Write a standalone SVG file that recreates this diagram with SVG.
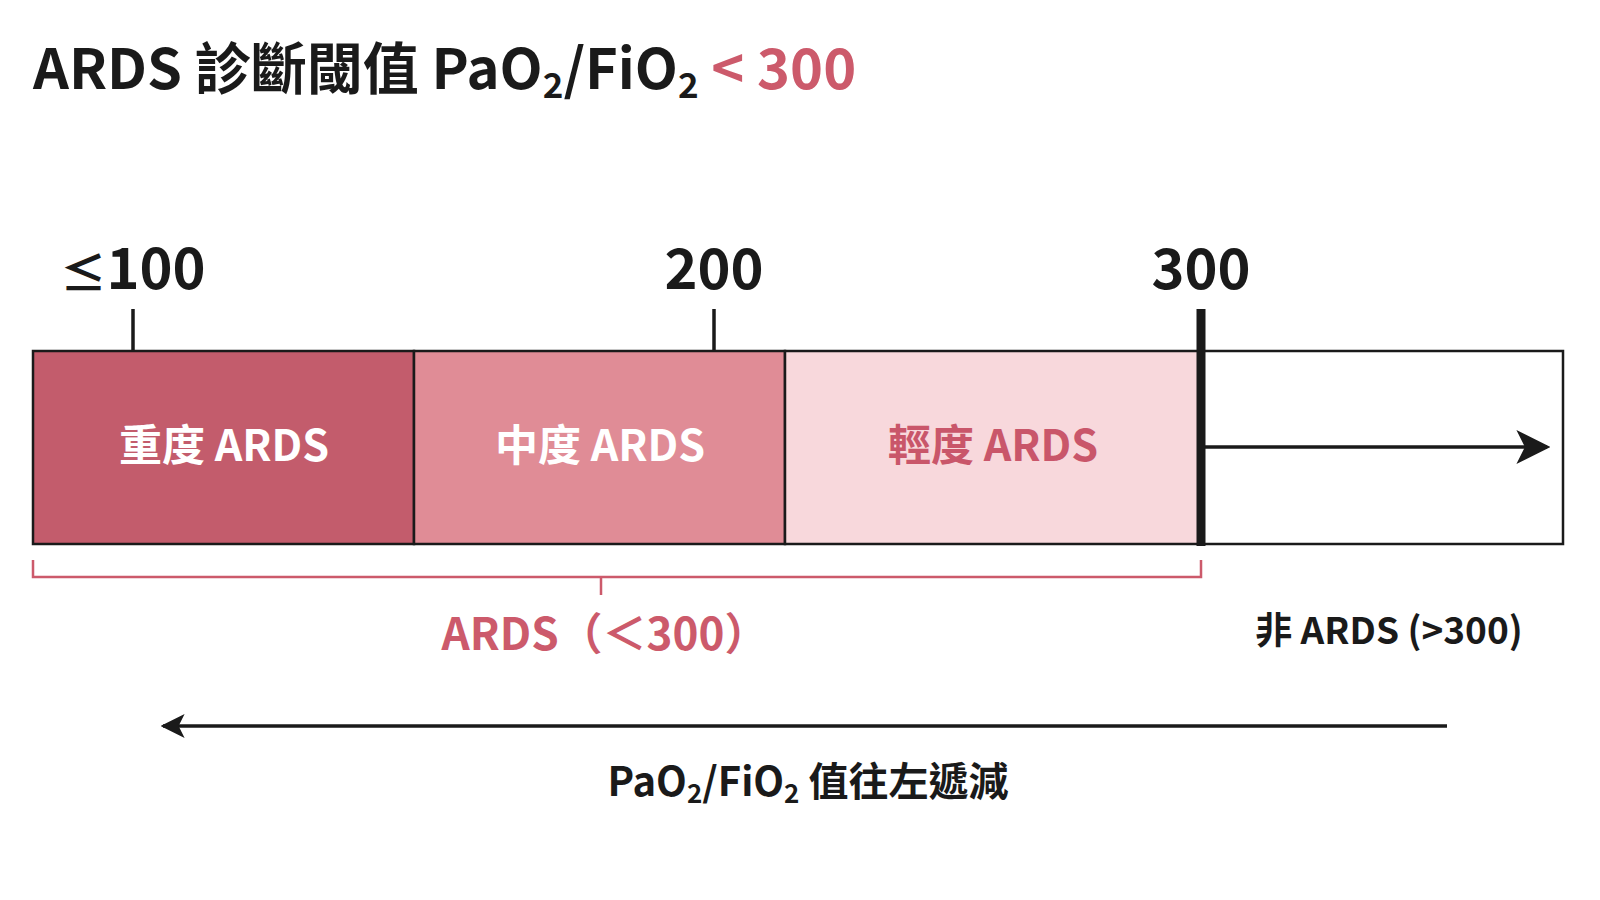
<svg xmlns="http://www.w3.org/2000/svg" width="1600" height="900" viewBox="0 0 1600 900">
<style>
text{font-family:"Noto Sans CJK TC","Noto Sans CJK SC","Noto Sans",sans-serif;font-weight:700}
.blk{fill:#1a1a1a}
.red{fill:#cc5a6b}
.tick{font-size:56px;text-anchor:middle;fill:#1a1a1a}
.seg{stroke:#1a1a1a;stroke-width:2.5}
.lbl{font-size:43px;text-anchor:middle}
.conn{stroke:#1a1a1a;stroke-width:3.5;fill:none}
</style>
<defs>
<marker id="ah" viewBox="0 0 20 20" refX="18" refY="10" markerWidth="34" markerHeight="34" markerUnits="userSpaceOnUse" orient="auto-start-reverse">
<path d="M0,0 L20,10 L0,20 L5,10 Z" fill="#1a1a1a"/>
</marker>
<marker id="ah2" viewBox="0 0 20 20" refX="18" refY="10" markerWidth="24" markerHeight="24" markerUnits="userSpaceOnUse" orient="auto-start-reverse">
<path d="M0,0 L20,10 L0,20 L5,10 Z" fill="#1a1a1a"/>
</marker>
</defs>
<rect width="1600" height="900" fill="#ffffff"/>
<text x="33" y="89" font-size="56" class="blk">ARDS 診斷閾值 PaO<tspan font-size="35" dy="9">2</tspan><tspan dy="-9">/FiO</tspan><tspan font-size="35" dy="9">2</tspan><tspan dy="-9" class="red"> &lt; 300</tspan></text>

<g id="tick-labels">
<text x="133" y="289" class="tick"><tspan font-size="46">≤</tspan>100</text>
<text x="714" y="289" class="tick">200</text>
<text x="1201" y="289" class="tick">300</text>
</g>

<g id="severe">
<rect x="33" y="351" width="381" height="193" fill="#c35c6c" class="seg"/>
<text x="224" y="461" class="lbl" fill="#ffffff">重度 ARDS</text>
</g>
<g id="moderate">
<rect x="414" y="351" width="371" height="193" fill="#e08c96" class="seg"/>
<text x="600" y="461" class="lbl" fill="#ffffff">中度 ARDS</text>
</g>
<g id="mild">
<rect x="785" y="351" width="416" height="193" fill="#f8d8dc" class="seg"/>
<text x="993" y="461" class="lbl" fill="#c9566a">輕度 ARDS</text>
</g>
<g id="non-ards">
<rect x="1201" y="351" width="362" height="193" fill="#ffffff" class="seg"/>
<text x="1389" y="644" font-size="37" text-anchor="middle" class="blk">非 ARDS (&gt;300)</text>
</g>

<g id="connectors">
<line x1="133" y1="309" x2="133" y2="351" class="conn"/>
<line x1="714" y1="309" x2="714" y2="351" class="conn"/>
<line x1="1201" y1="309" x2="1201" y2="546" stroke="#1a1a1a" stroke-width="9"/>
<line x1="1205" y1="447" x2="1547" y2="447" class="conn" marker-end="url(#ah)"/>
<path d="M33,560 V577 H1201 V560 M601,577 V595" stroke="#cc5a6b" stroke-width="2.5" fill="none"/>
<line x1="1447" y1="726" x2="163" y2="726" class="conn" marker-end="url(#ah2)"/>
</g>

<g id="ards-label">
<text x="605" y="650" font-size="44" text-anchor="middle" class="red">ARDS（＜300）</text>
</g>
<g id="axis-label">
<text x="808" y="796" font-size="40" text-anchor="middle" class="blk">PaO<tspan font-size="26" dy="7">2</tspan><tspan dy="-7">/FiO</tspan><tspan font-size="26" dy="7">2</tspan><tspan dy="-7"> 值往左遞減</tspan></text>
</g>
</svg>
